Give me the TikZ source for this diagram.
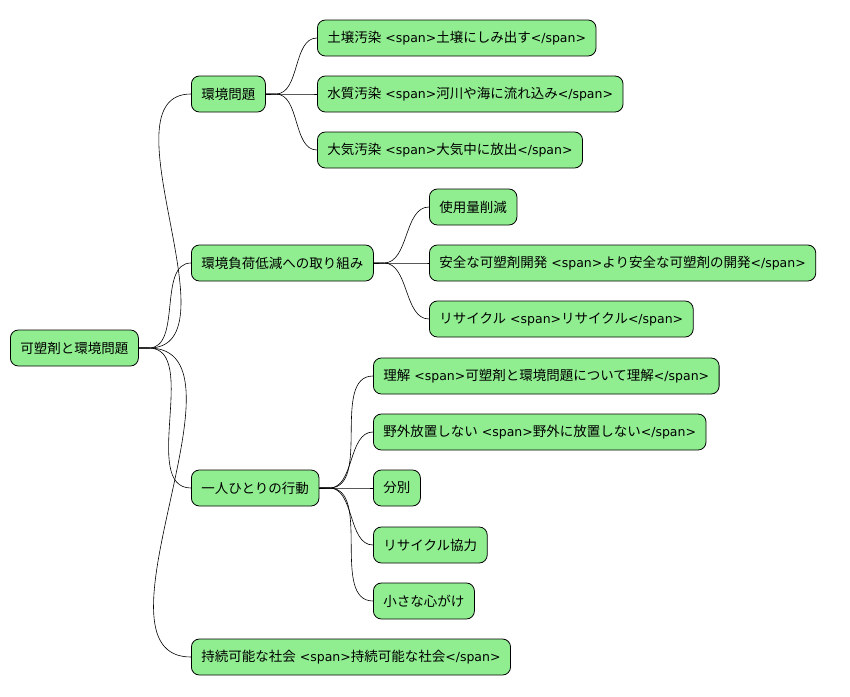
\documentclass[tikz,border=0pt]{standalone}
\usepackage{fontspec}
\setmainfont{Noto Sans CJK JP}
\newfontfamily\dvs{DejaVu Sans}
\newcommand{\spo}{{\dvs\fontsize{12.5}{14}\selectfont\ <span>}}
\newcommand{\spc}{{\dvs\fontsize{12.5}{14}\selectfont </span>}}
\begin{document}
\begin{tikzpicture}[x=1pt,y=-1pt,
  mm/.style={draw=black,fill={rgb,255:red,144;green,238;blue,144},rounded corners=8pt,
    minimum height=36pt,inner xsep=10pt,anchor=west,font=\fontsize{13.5}{15}\selectfont,line width=0.8pt},
  ln/.style={draw=black,line width=0.6pt}]
\useasboundingbox (0,0) rectangle (850,696);
\node[mm] (r) at (10,348) {可塑剤と環境問題};
\node[mm] (a) at (191,94) {環境問題};
\node[mm] (b) at (191,263) {環境負荷低減への取り組み};
\node[mm] (c) at (191,488) {一人ひとりの行動};
\node[mm] (d) at (191,657) {持続可能な社会\spo 持続可能な社会\spc};
\node[mm] (a1) at (317,38) {土壌汚染\spo 土壌にしみ出す\spc};
\node[mm] (a2) at (317,94) {水質汚染\spo 河川や海に流れ込み\spc};
\node[mm] (a3) at (317,150) {大気汚染\spo 大気中に放出\spc};
\node[mm] (b1) at (429,207) {使用量削減};
\node[mm] (b2) at (429,263) {安全な可塑剤開発\spo より安全な可塑剤の開発\spc};
\node[mm] (b3) at (429,319) {リサイクル\spo リサイクル\spc};
\node[mm] (c1) at (373,376) {理解\spo 可塑剤と環境問題について理解\spc};
\node[mm] (c2) at (373,432) {野外放置しない\spo 野外に放置しない\spc};
\node[mm] (c3) at (373,488) {分別};
\node[mm] (c4) at (373,545) {リサイクル協力};
\node[mm] (c5) at (373,601) {小さな心がけ};
\foreach \p/\k in {r/a,r/b,r/c,r/d,a/a1,a/a2,a/a3,b/b1,b/b2,b/b3,c/c1,c/c2,c/c3,c/c4,c/c5}
  \draw[ln] (\p.east) -- ++(10,0) to[out=0,in=180,looseness=0.9] (\k.west);
\end{tikzpicture}
\end{document}
